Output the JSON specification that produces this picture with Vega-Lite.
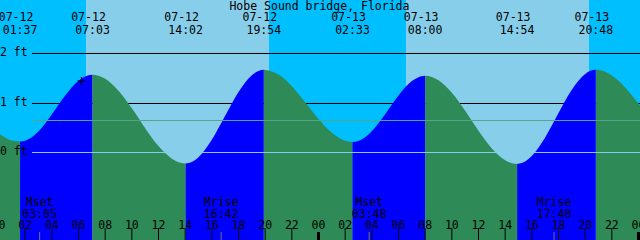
{
  "$schema": "https://vega.github.io/schema/vega-lite/v6.json",
  "width": 640,
  "height": 240,
  "padding": 0,
  "autosize": {"type": "none"},
  "config": {"view": {"stroke": null}},
  "datasets": {
    "sky": [
      {"a": -2, "b": 6.5667, "k": "night"},
      {"a": 6.5667, "b": 20.2833, "k": "day"},
      {"a": 20.2833, "b": 30.5667, "k": "night"},
      {"a": 30.5667, "b": 44.2833, "k": "day"},
      {"a": 44.2833, "b": 50, "k": "night"}
    ],
    "curve": [
      {"t": 0, "ft": 0.39, "seg": "s0", "dir": "fall"},
      {"t": 1, "ft": 0.24, "seg": "s0", "dir": "fall"},
      {"t": 1.6167, "ft": 0.22, "seg": "s0", "dir": "fall"},
      {"t": 1.6167, "ft": 0.22, "seg": "s1", "dir": "rise"},
      {"t": 2, "ft": 0.237, "seg": "s1", "dir": "rise"},
      {"t": 3, "ft": 0.424, "seg": "s1", "dir": "rise"},
      {"t": 4, "ft": 0.766, "seg": "s1", "dir": "rise"},
      {"t": 5, "ft": 1.149, "seg": "s1", "dir": "rise"},
      {"t": 6, "ft": 1.449, "seg": "s1", "dir": "rise"},
      {"t": 7, "ft": 1.57, "seg": "s1", "dir": "rise"},
      {"t": 7.05, "ft": 1.57, "seg": "s1", "dir": "rise"},
      {"t": 7.05, "ft": 1.57, "seg": "s2", "dir": "fall"},
      {"t": 7.5, "ft": 1.552, "seg": "s2", "dir": "fall"},
      {"t": 8, "ft": 1.489, "seg": "s2", "dir": "fall"},
      {"t": 9, "ft": 1.247, "seg": "s2", "dir": "fall"},
      {"t": 10, "ft": 0.892, "seg": "s2", "dir": "fall"},
      {"t": 11, "ft": 0.492, "seg": "s2", "dir": "fall"},
      {"t": 12, "ft": 0.129, "seg": "s2", "dir": "fall"},
      {"t": 13, "ft": -0.125, "seg": "s2", "dir": "fall"},
      {"t": 14, "ft": -0.22, "seg": "s2", "dir": "fall"},
      {"t": 14.0333, "ft": -0.22, "seg": "s2", "dir": "fall"},
      {"t": 14.0333, "ft": -0.22, "seg": "s3", "dir": "rise"},
      {"t": 14.5, "ft": -0.191, "seg": "s3", "dir": "rise"},
      {"t": 15, "ft": -0.096, "seg": "s3", "dir": "rise"},
      {"t": 16, "ft": 0.258, "seg": "s3", "dir": "rise"},
      {"t": 17, "ft": 0.742, "seg": "s3", "dir": "rise"},
      {"t": 18, "ft": 1.222, "seg": "s3", "dir": "rise"},
      {"t": 19, "ft": 1.563, "seg": "s3", "dir": "rise"},
      {"t": 19.5, "ft": 1.648, "seg": "s3", "dir": "rise"},
      {"t": 19.9, "ft": 1.67, "seg": "s3", "dir": "rise"},
      {"t": 19.9, "ft": 1.67, "seg": "s4", "dir": "fall"},
      {"t": 20, "ft": 1.669, "seg": "s4", "dir": "fall"},
      {"t": 21, "ft": 1.574, "seg": "s4", "dir": "fall"},
      {"t": 22, "ft": 1.34, "seg": "s4", "dir": "fall"},
      {"t": 23, "ft": 1.017, "seg": "s4", "dir": "fall"},
      {"t": 24, "ft": 0.678, "seg": "s4", "dir": "fall"},
      {"t": 25, "ft": 0.398, "seg": "s4", "dir": "fall"},
      {"t": 26, "ft": 0.235, "seg": "s4", "dir": "fall"},
      {"t": 26.55, "ft": 0.21, "seg": "s4", "dir": "fall"},
      {"t": 26.55, "ft": 0.21, "seg": "s5", "dir": "rise"},
      {"t": 27, "ft": 0.233, "seg": "s5", "dir": "rise"},
      {"t": 28, "ft": 0.431, "seg": "s5", "dir": "rise"},
      {"t": 29, "ft": 0.774, "seg": "s5", "dir": "rise"},
      {"t": 30, "ft": 1.152, "seg": "s5", "dir": "rise"},
      {"t": 31, "ft": 1.442, "seg": "s5", "dir": "rise"},
      {"t": 31.5, "ft": 1.522, "seg": "s5", "dir": "rise"},
      {"t": 32, "ft": 1.55, "seg": "s5", "dir": "rise"},
      {"t": 32, "ft": 1.55, "seg": "s6", "dir": "fall"},
      {"t": 32.5, "ft": 1.527, "seg": "s6", "dir": "fall"},
      {"t": 33, "ft": 1.459, "seg": "s6", "dir": "fall"},
      {"t": 34, "ft": 1.206, "seg": "s6", "dir": "fall"},
      {"t": 35, "ft": 0.841, "seg": "s6", "dir": "fall"},
      {"t": 36, "ft": 0.44, "seg": "s6", "dir": "fall"},
      {"t": 37, "ft": 0.083, "seg": "s6", "dir": "fall"},
      {"t": 38, "ft": -0.156, "seg": "s6", "dir": "fall"},
      {"t": 38.5, "ft": -0.215, "seg": "s6", "dir": "fall"},
      {"t": 38.9, "ft": -0.23, "seg": "s6", "dir": "fall"},
      {"t": 38.9, "ft": -0.23, "seg": "s7", "dir": "rise"},
      {"t": 39, "ft": -0.229, "seg": "s7", "dir": "rise"},
      {"t": 40, "ft": -0.071, "seg": "s7", "dir": "rise"},
      {"t": 41, "ft": 0.305, "seg": "s7", "dir": "rise"},
      {"t": 42, "ft": 0.796, "seg": "s7", "dir": "rise"},
      {"t": 43, "ft": 1.266, "seg": "s7", "dir": "rise"},
      {"t": 44, "ft": 1.585, "seg": "s7", "dir": "rise"},
      {"t": 44.4, "ft": 1.649, "seg": "s7", "dir": "rise"},
      {"t": 44.8, "ft": 1.67, "seg": "s7", "dir": "rise"},
      {"t": 44.8, "ft": 1.67, "seg": "s8", "dir": "fall"},
      {"t": 45, "ft": 1.668, "seg": "s8", "dir": "fall"},
      {"t": 46, "ft": 1.556, "seg": "s8", "dir": "fall"},
      {"t": 47, "ft": 1.313, "seg": "s8", "dir": "fall"},
      {"t": 48, "ft": 0.988, "seg": "s8", "dir": "fall"},
      {"t": 49, "ft": 0.654, "seg": "s8", "dir": "fall"}
    ],
    "tides": [
      {"t": 1.6167, "d": "07-12", "tm": "01:37"},
      {"t": 7.05, "d": "07-12", "tm": "07:03"},
      {"t": 14.0333, "d": "07-12", "tm": "14:02"},
      {"t": 19.9, "d": "07-12", "tm": "19:54"},
      {"t": 26.55, "d": "07-13", "tm": "02:33"},
      {"t": 32.0, "d": "07-13", "tm": "08:00"},
      {"t": 38.9, "d": "07-13", "tm": "14:54"},
      {"t": 44.8, "d": "07-13", "tm": "20:48"}
    ],
    "moon": [
      {"t": 3.0833, "n": "Mset", "tm": "03:05"},
      {"t": 16.7, "n": "Mrise", "tm": "16:42"},
      {"t": 27.8, "n": "Mset", "tm": "03:48"},
      {"t": 41.6667, "n": "Mrise", "tm": "17:40"}
    ],
    "hours": [
      {"t": 0, "lab": "00", "mid": true}, {"t": 2, "lab": "02", "mid": false},
      {"t": 4, "lab": "04", "mid": false}, {"t": 6, "lab": "06", "mid": false},
      {"t": 8, "lab": "08", "mid": false}, {"t": 10, "lab": "10", "mid": false},
      {"t": 12, "lab": "12", "mid": false}, {"t": 14, "lab": "14", "mid": false},
      {"t": 16, "lab": "16", "mid": false}, {"t": 18, "lab": "18", "mid": false},
      {"t": 20, "lab": "20", "mid": false}, {"t": 22, "lab": "22", "mid": false},
      {"t": 24, "lab": "00", "mid": true}, {"t": 26, "lab": "02", "mid": false},
      {"t": 28, "lab": "04", "mid": false}, {"t": 30, "lab": "06", "mid": false},
      {"t": 32, "lab": "08", "mid": false}, {"t": 34, "lab": "10", "mid": false},
      {"t": 36, "lab": "12", "mid": false}, {"t": 38, "lab": "14", "mid": false},
      {"t": 40, "lab": "16", "mid": false}, {"t": 42, "lab": "18", "mid": false},
      {"t": 44, "lab": "20", "mid": false}, {"t": 46, "lab": "22", "mid": false},
      {"t": 48, "lab": "00", "mid": true}
    ],
    "levels": [
      {"ft": 2, "lab": "2 ft"},
      {"ft": 1, "lab": "1 ft"},
      {"ft": 0, "lab": "0 ft"}
    ],
    "mark": [{"t": 6.22, "ft": 1.445}],
    "title": [{"s": "Hobe Sound bridge, Florida"}]
  },
  "layer": [
    {
      "data": {"name": "sky"},
      "mark": {"type": "rect", "clip": true},
      "encoding": {
        "x": {"field": "a", "type": "quantitative", "scale": {"domain": [0.1125, 48.1125], "nice": false, "zero": false}, "axis": null},
        "x2": {"field": "b"},
        "y": {"datum": 3.0808, "type": "quantitative", "scale": {"domain": [-1.7677, 3.0808], "nice": false, "zero": false}, "axis": null},
        "y2": {"datum": -1.7677},
        "color": {"field": "k", "type": "nominal", "scale": {"domain": ["night", "day", "rise", "fall"], "range": ["#00BFFF", "#87CEEB", "#0000FF", "#2E8B57"]}, "legend": null}
      }
    },
    {
      "data": {"name": "levels"},
      "transform": [{"filter": "datum.ft == 2"}],
      "mark": {"type": "rule", "color": "#000000", "strokeWidth": 1},
      "encoding": {
        "x": {"datum": 2.5125, "type": "quantitative", "scale": {"domain": [0.1125, 48.1125], "nice": false, "zero": false}, "axis": null},
        "x2": {"datum": 48.1125},
        "y": {"field": "ft", "type": "quantitative", "scale": {"domain": [-1.7677, 3.0808], "nice": false, "zero": false}, "axis": null}
      }
    },
    {
      "data": {"name": "levels"},
      "transform": [{"filter": "datum.ft == 1"}],
      "mark": {"type": "rule", "color": "#000000", "strokeWidth": 1, "yOffset": 0.5},
      "encoding": {
        "x": {"datum": 2.5125, "type": "quantitative", "scale": {"domain": [0.1125, 48.1125], "nice": false, "zero": false}, "axis": null},
        "x2": {"datum": 48.1125},
        "y": {"field": "ft", "type": "quantitative", "scale": {"domain": [-1.7677, 3.0808], "nice": false, "zero": false}, "axis": null}
      }
    },
    {
      "data": {"name": "curve"},
      "mark": {"type": "area", "interpolate": "monotone", "clip": true},
      "encoding": {
        "x": {"field": "t", "type": "quantitative", "scale": {"domain": [0.1125, 48.1125], "nice": false, "zero": false}, "axis": null},
        "y": {"field": "ft", "type": "quantitative", "scale": {"domain": [-1.7677, 3.0808], "nice": false, "zero": false}, "axis": null},
        "y2": {"datum": -1.7677},
        "color": {"field": "dir", "type": "nominal", "scale": {"domain": ["night", "day", "rise", "fall"], "range": ["#00BFFF", "#87CEEB", "#0000FF", "#2E8B57"]}, "legend": null},
        "detail": {"field": "seg"}
      }
    },
    {
      "data": {"values": [{"ft": 0.646}]},
      "mark": {"type": "rule", "color": "#55A68A", "strokeWidth": 1},
      "encoding": {
        "x": {"datum": 2.5125, "type": "quantitative", "scale": {"domain": [0.1125, 48.1125], "nice": false, "zero": false}, "axis": null},
        "x2": {"datum": 48.1125},
        "y": {"field": "ft", "type": "quantitative", "scale": {"domain": [-1.7677, 3.0808], "nice": false, "zero": false}, "axis": null}
      }
    },
    {
      "data": {"name": "levels"},
      "transform": [{"filter": "datum.ft == 0"}],
      "mark": {"type": "rule", "color": "#87CEEB", "strokeWidth": 1},
      "encoding": {
        "x": {"datum": 2.5125, "type": "quantitative", "scale": {"domain": [0.1125, 48.1125], "nice": false, "zero": false}, "axis": null},
        "x2": {"datum": 48.1125},
        "y": {"field": "ft", "type": "quantitative", "scale": {"domain": [-1.7677, 3.0808], "nice": false, "zero": false}, "axis": null}
      }
    },
    {
      "data": {"name": "levels"},
      "mark": {"type": "text", "font": "DejaVu Sans Mono", "fontSize": 11.5, "color": "#000000", "align": "left", "baseline": "middle"},
      "encoding": {
        "x": {"datum": 0.1125, "type": "quantitative", "scale": {"domain": [0.1125, 48.1125], "nice": false, "zero": false}, "axis": null},
        "y": {"field": "ft", "type": "quantitative", "scale": {"domain": [-1.7677, 3.0808], "nice": false, "zero": false}, "axis": null},
        "text": {"field": "lab"}
      }
    },
    {
      "data": {"name": "hours"},
      "transform": [{"filter": "!datum.mid"}],
      "mark": {"type": "rule", "color": "#000000", "strokeWidth": 1},
      "encoding": {
        "x": {"field": "t", "type": "quantitative", "scale": {"domain": [0.1125, 48.1125], "nice": false, "zero": false}, "axis": null},
        "y": {"datum": -1.5253, "type": "quantitative", "scale": {"domain": [-1.7677, 3.0808], "nice": false, "zero": false}, "axis": null},
        "y2": {"datum": -1.7677}
      }
    },
    {
      "data": {"name": "hours"},
      "transform": [{"filter": "datum.mid"}],
      "mark": {"type": "rule", "color": "#000000", "strokeWidth": 3},
      "encoding": {
        "x": {"field": "t", "type": "quantitative", "scale": {"domain": [0.1125, 48.1125], "nice": false, "zero": false}, "axis": null},
        "y": {"datum": -1.606, "type": "quantitative", "scale": {"domain": [-1.7677, 3.0808], "nice": false, "zero": false}, "axis": null},
        "y2": {"datum": -1.7677}
      }
    },
    {
      "data": {"name": "moon"},
      "mark": {"type": "rule", "color": "#707070", "strokeWidth": 1},
      "encoding": {
        "x": {"field": "t", "type": "quantitative", "scale": {"domain": [0.1125, 48.1125], "nice": false, "zero": false}, "axis": null},
        "y": {"datum": -1.606, "type": "quantitative", "scale": {"domain": [-1.7677, 3.0808], "nice": false, "zero": false}, "axis": null},
        "y2": {"datum": -1.7677}
      }
    },
    {
      "data": {"name": "hours"},
      "mark": {"type": "text", "font": "DejaVu Sans Mono", "fontSize": 11.5, "color": "#000000", "align": "center", "baseline": "alphabetic"},
      "encoding": {
        "x": {"field": "t", "type": "quantitative", "scale": {"domain": [0.1125, 48.1125], "nice": false, "zero": false}, "axis": null},
        "y": {"datum": -1.5515, "type": "quantitative", "scale": {"domain": [-1.7677, 3.0808], "nice": false, "zero": false}, "axis": null},
        "text": {"field": "lab"}
      }
    },
    {
      "data": {"name": "moon"},
      "mark": {"type": "text", "font": "DejaVu Sans Mono", "fontSize": 11.5, "color": "#000000", "align": "center", "baseline": "alphabetic"},
      "encoding": {
        "x": {"field": "t", "type": "quantitative", "scale": {"domain": [0.1125, 48.1125], "nice": false, "zero": false}, "axis": null},
        "y": {"datum": -1.0808, "type": "quantitative", "scale": {"domain": [-1.7677, 3.0808], "nice": false, "zero": false}, "axis": null},
        "text": {"field": "n"}
      }
    },
    {
      "data": {"name": "moon"},
      "mark": {"type": "text", "font": "DejaVu Sans Mono", "fontSize": 11.5, "color": "#000000", "align": "center", "baseline": "alphabetic"},
      "encoding": {
        "x": {"field": "t", "type": "quantitative", "scale": {"domain": [0.1125, 48.1125], "nice": false, "zero": false}, "axis": null},
        "y": {"datum": -1.3293, "type": "quantitative", "scale": {"domain": [-1.7677, 3.0808], "nice": false, "zero": false}, "axis": null},
        "text": {"field": "tm"}
      }
    },
    {
      "data": {"name": "tides"},
      "mark": {"type": "text", "font": "DejaVu Sans Mono", "fontSize": 11.5, "color": "#000000", "align": "center", "baseline": "alphabetic", "dx": -4},
      "encoding": {
        "x": {"field": "t", "type": "quantitative", "scale": {"domain": [0.1125, 48.1125], "nice": false, "zero": false}, "axis": null},
        "y": {"datum": 2.6566, "type": "quantitative", "scale": {"domain": [-1.7677, 3.0808], "nice": false, "zero": false}, "axis": null},
        "text": {"field": "d"}
      }
    },
    {
      "data": {"name": "tides"},
      "mark": {"type": "text", "font": "DejaVu Sans Mono", "fontSize": 11.5, "color": "#000000", "align": "center", "baseline": "alphabetic"},
      "encoding": {
        "x": {"field": "t", "type": "quantitative", "scale": {"domain": [0.1125, 48.1125], "nice": false, "zero": false}, "axis": null},
        "y": {"datum": 2.3939, "type": "quantitative", "scale": {"domain": [-1.7677, 3.0808], "nice": false, "zero": false}, "axis": null},
        "text": {"field": "tm"}
      }
    },
    {
      "data": {"name": "title"},
      "mark": {"type": "text", "font": "DejaVu Sans Mono", "fontSize": 11.5, "color": "#000000", "align": "center", "baseline": "alphabetic"},
      "encoding": {
        "x": {"datum": 24.07, "type": "quantitative", "scale": {"domain": [0.1125, 48.1125], "nice": false, "zero": false}, "axis": null},
        "y": {"datum": 2.8788, "type": "quantitative", "scale": {"domain": [-1.7677, 3.0808], "nice": false, "zero": false}, "axis": null},
        "text": {"field": "s"}
      }
    },
    {
      "data": {"name": "mark"},
      "mark": {"type": "point", "shape": "M-1,0L1,0M0,-1L0,1", "size": 64, "filled": false, "stroke": "#000000", "strokeWidth": 1, "opacity": 1},
      "encoding": {
        "x": {"field": "t", "type": "quantitative", "scale": {"domain": [0.1125, 48.1125], "nice": false, "zero": false}, "axis": null},
        "y": {"field": "ft", "type": "quantitative", "scale": {"domain": [-1.7677, 3.0808], "nice": false, "zero": false}, "axis": null}
      }
    }
  ]
}
